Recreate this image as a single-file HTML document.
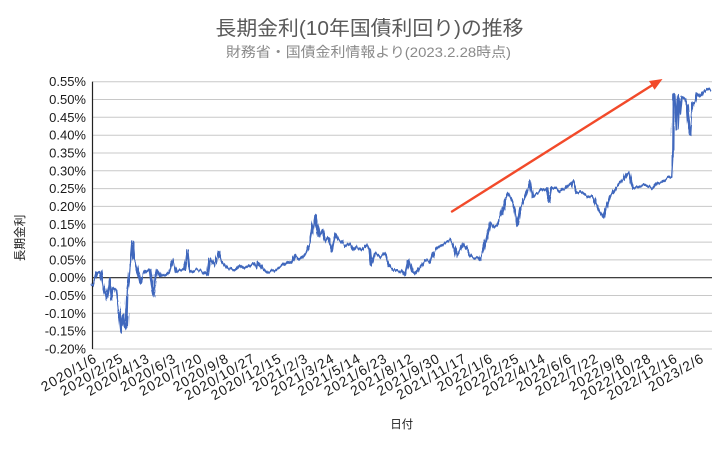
<!DOCTYPE html>
<html>
<head>
<meta charset="utf-8">
<style>
html,body{margin:0;padding:0;background:#fff;}
svg{display:block;}
text{font-family:"Liberation Sans","Noto Sans CJK JP",sans-serif;}
</style>
</head>
<body>
<svg id="c" width="728" height="450" viewBox="0 0 728 450" xmlns="http://www.w3.org/2000/svg">
<defs>
<filter id="rough" filterUnits="userSpaceOnUse" x="80" y="70" width="648" height="290">
<feTurbulence type="fractalNoise" baseFrequency="0.45 0.02" numOctaves="2" seed="4" result="t"/>
<feDisplacementMap in="SourceGraphic" in2="t" scale="5" xChannelSelector="B" yChannelSelector="G"/>
</filter>
</defs>
<rect width="728" height="450" fill="#fff"/>
<text x="369.5" y="35" font-size="20" fill="#595959" text-anchor="middle" textLength="308" lengthAdjust="spacingAndGlyphs">長期金利(10年国債利回り)の推移</text>
<text x="368.5" y="57" font-size="14" fill="#8a8a8a" text-anchor="middle" textLength="285" lengthAdjust="spacingAndGlyphs">財務省・国債金利情報より(2023.2.28時点)</text>

<g stroke="#c8c8c8" stroke-width="1">
<line x1="92" y1="81.7" x2="712" y2="81.7"/>
<line x1="92" y1="99.5" x2="712" y2="99.5"/>
<line x1="92" y1="117.3" x2="712" y2="117.3"/>
<line x1="92" y1="135.2" x2="712" y2="135.2"/>
<line x1="92" y1="153" x2="712" y2="153"/>
<line x1="92" y1="170.8" x2="712" y2="170.8"/>
<line x1="92" y1="188.6" x2="712" y2="188.6"/>
<line x1="92" y1="206.4" x2="712" y2="206.4"/>
<line x1="92" y1="224.3" x2="712" y2="224.3"/>
<line x1="92" y1="242.1" x2="712" y2="242.1"/>
<line x1="92" y1="259.9" x2="712" y2="259.9"/>
<line x1="92" y1="295.5" x2="712" y2="295.5"/>
<line x1="92" y1="313.3" x2="712" y2="313.3"/>
<line x1="92" y1="331.2" x2="712" y2="331.2"/>
<line x1="92" y1="349" x2="712" y2="349"/>
</g>
<line x1="92" y1="277.7" x2="712" y2="277.7" stroke="#222" stroke-width="1.2"/>
<line x1="92.5" y1="81.7" x2="92.5" y2="349" stroke="#222" stroke-width="1.2"/>

<g font-size="13" fill="#1a1a1a" text-anchor="end">
<text x="86" y="86.2">0.55%</text>
<text x="86" y="104">0.50%</text>
<text x="86" y="121.8">0.45%</text>
<text x="86" y="139.7">0.40%</text>
<text x="86" y="157.5">0.35%</text>
<text x="86" y="175.3">0.30%</text>
<text x="86" y="193.1">0.25%</text>
<text x="86" y="210.9">0.20%</text>
<text x="86" y="228.8">0.15%</text>
<text x="86" y="246.6">0.10%</text>
<text x="86" y="264.4">0.05%</text>
<text x="86" y="282.2">0.00%</text>
<text x="86" y="300">-0.05%</text>
<text x="86" y="317.8">-0.10%</text>
<text x="86" y="335.7">-0.15%</text>
<text x="86" y="353.5">-0.20%</text>
</g>

<text transform="translate(24,238) rotate(-90)" font-size="11.7" fill="#1a1a1a" text-anchor="middle">長期金利</text>
<text x="401.7" y="428" font-size="11.5" fill="#1a1a1a" text-anchor="middle">日付</text>

<g font-size="13.8" fill="#1a1a1a" text-anchor="end" letter-spacing="1">
<text transform="translate(98,361) rotate(-30)">2020/1/6</text>
<text transform="translate(124.4,361) rotate(-30)">2020/2/25</text>
<text transform="translate(150.8,361) rotate(-30)">2020/4/13</text>
<text transform="translate(177.2,361) rotate(-30)">2020/6/3</text>
<text transform="translate(203.6,361) rotate(-30)">2020/7/20</text>
<text transform="translate(230,361) rotate(-30)">2020/9/8</text>
<text transform="translate(256.4,361) rotate(-30)">2020/10/27</text>
<text transform="translate(282.8,361) rotate(-30)">2020/12/15</text>
<text transform="translate(309.2,361) rotate(-30)">2021/2/3</text>
<text transform="translate(335.6,361) rotate(-30)">2021/3/24</text>
<text transform="translate(362,361) rotate(-30)">2021/5/14</text>
<text transform="translate(388.4,361) rotate(-30)">2021/6/23</text>
<text transform="translate(414.8,361) rotate(-30)">2021/8/12</text>
<text transform="translate(441.2,361) rotate(-30)">2021/9/30</text>
<text transform="translate(467.6,361) rotate(-30)">2021/11/17</text>
<text transform="translate(494,361) rotate(-30)">2022/1/6</text>
<text transform="translate(520.4,361) rotate(-30)">2022/2/25</text>
<text transform="translate(546.8,361) rotate(-30)">2022/4/14</text>
<text transform="translate(573.2,361) rotate(-30)">2022/6/6</text>
<text transform="translate(599.6,361) rotate(-30)">2022/7/22</text>
<text transform="translate(626,361) rotate(-30)">2022/9/8</text>
<text transform="translate(652.4,361) rotate(-30)">2022/10/28</text>
<text transform="translate(678.8,361) rotate(-30)">2022/12/16</text>
<text transform="translate(705.2,361) rotate(-30)">2023/2/6</text>
</g>

<g filter="url(#rough)">
<polyline fill="none" stroke="#4167bd" stroke-width="2.3" stroke-linejoin="round" points="92,286 96.3,273 100.3,271.7 103,286.7 106.3,300 109.7,278 111.3,300 113,288 116.3,290 118,303 119.7,316.7 121.3,331.7 123,315 124.7,326.7 126.3,328.3 127.3,291.7 129,280 130.7,260 132.3,241.7 133.7,258 135.7,263 138,271.7 140.3,283 143,275 146.3,271.7 149.7,270 151.3,281.7 154,296.7 156.3,276.7 158,270 161.3,276.7 166.3,275 169.7,271.7 173,260 176.3,271.7 179.7,270 184.7,270 187.3,250 189.7,271.7 194.7,270 201.3,270 207.3,275 209.7,258.3 213,263.3 214.7,266.7 218.7,251.7 221.3,261.7 224.7,265 228,268.3 234.7,270 239.7,265 244.7,268.3 249.7,265 253.3,263.3 256.7,268.3 258,261.7 263,270 268,273.3 273.3,270 281.3,266.7 288,261.7 291.3,263.3 294.7,255 297,257 300,259 303.3,256 306.7,252 310,243 315,215 318.3,236.7 321.7,230 325,241.7 328.3,238.3 331.7,251.7 335,233.3 338.3,240 341.7,241.7 345,246.7 350,243.3 353.3,250 356.7,246.7 361.7,250 366.7,245 370,250 371.7,265 375,253.3 380,256.7 385,253.3 388.3,265 393.3,270 398.3,271.7 401.7,270 405,275 408.3,260 411.7,271.7 415,273.3 418.3,268.3 421.7,265 425,260 430,261.7 433.3,253.3 436.7,248.3 441.7,245 446.7,241.7 450,240 453.3,245 456.7,256.7 460,250 463.3,243.3 466.7,248.3 470,255 473.3,258.3 476.7,258 480,260 483.3,250 486.7,236.7 490,223.3 493.3,226.7 496.7,225 501.7,213.3 505,200 508.3,193.3 511.7,200 515,210 517.3,225 520,210 525,196.7 527.3,190 530,181.7 532.7,196.7 536.7,193.3 541.7,190 546.7,188.3 549.3,201.7 551.7,188.3 556.7,188.3 560,191.7 565,188.3 568.3,185 572.7,181.7 576,193.3 580,191.7 583.3,193.3 588.3,196.7 593.3,196.7 595,201.7 598.3,210 601.7,215 604,218.3 606.7,206.7 610,196.7 613.3,191.7 616.7,186.7 620,183.3 624,180 626.7,173.3 629.3,171.7 631.7,183.3 633.3,188.3 640,186.7 646.7,185 650,186.7 653.3,188.3 656.7,183.3 661.7,181.7 666.7,178.3 671.7,176.7 672.7,160 673.3,95 675,95 676.7,130 678.3,95 680,115 681.7,96.7 685,98.3 687.3,105 688.7,126.7 690.7,135 692.7,103.3 695,101.7 696.7,93.3 700,96.7 703.3,91.7 706.7,88.3 711,90"/>
</g>

<line x1="452" y1="211.5" x2="652.5" y2="85" stroke="#f24a2a" stroke-width="2.4" stroke-linecap="round"/>
<polygon points="662.5,79 654.6,89.8 649,81" fill="#f24a2a"/>
</svg>
</body>
</html>
